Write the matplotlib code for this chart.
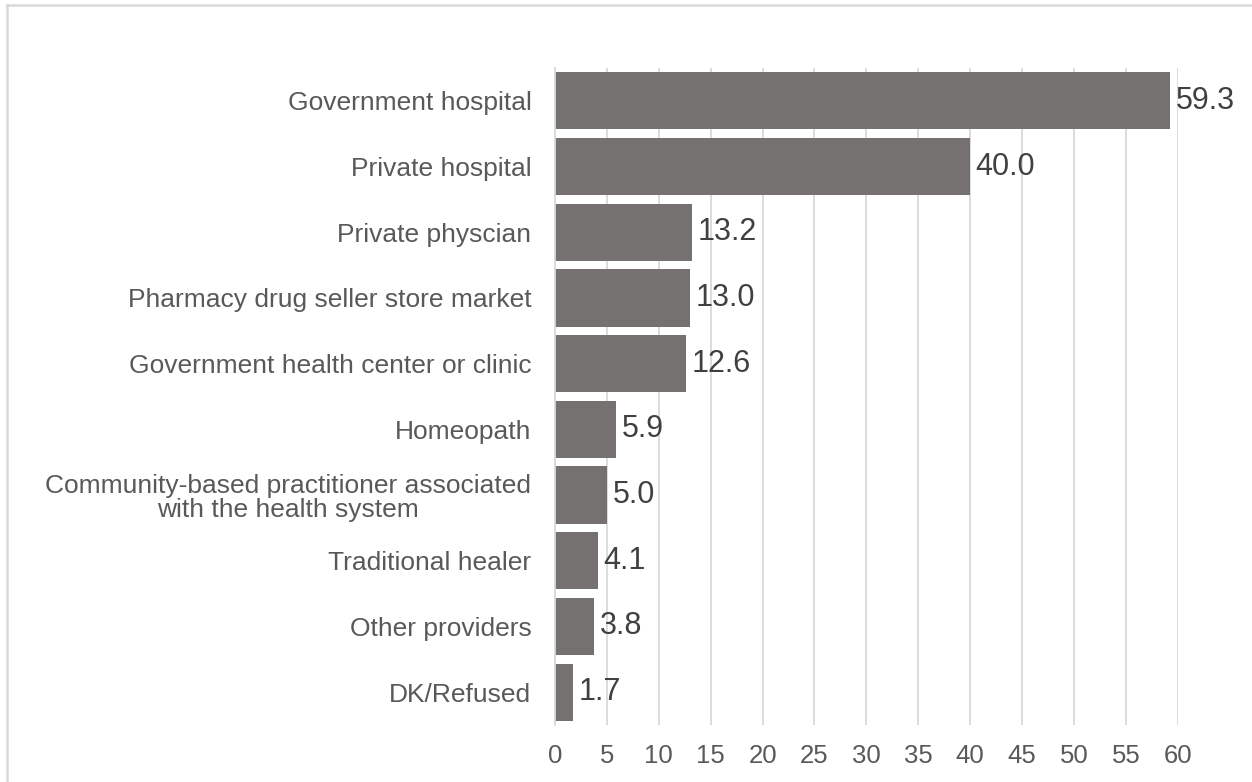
import matplotlib.pyplot as plt
from matplotlib.lines import Line2D

categories = ['Government hospital',
              'Private hospital',
              'Private physcian',
              'Pharmacy drug seller store market',
              'Government health center or clinic',
              'Homeopath',
              'Community-based practitioner associated\nwith the health system',
              'Traditional healer',
              'Other providers',
              'DK/Refused']
values = [59.3, 40.0, 13.2, 13.0, 12.6, 5.9, 5.0, 4.1, 3.8, 1.7]
xticks = list(range(0, 65, 5))

BAR_COLOR = '#767171'
GRID_COLOR = '#d9d9d9'

plt.rcParams['font.family'] = ['Liberation Sans', 'DejaVu Sans']

fig = plt.figure(figsize=(12.52, 7.82), dpi=100)
ax = fig.add_axes([0.4433, 0.0729, 0.4974, 0.8401])

pos = list(range(len(categories)))
ax.barh(pos, values, height=0.87, color=BAR_COLOR, zorder=2)

for y, v in zip(pos, values):
    ax.annotate('{:.1f}'.format(v), xy=(v, y), xytext=(4, 0),
                textcoords='offset points', va='center', ha='left',
                fontsize=22, color='#404040')

ax.set_ylim(len(categories) - 0.5, -0.5)
ax.set_xlim(0, 60)
ax.set_yticks(pos)
ax.set_yticklabels(categories, fontsize=19, color='#595959')
for lbl in ax.get_yticklabels():
    lbl.set_multialignment('center')
    lbl.set_linespacing(1.0)
ax.set_xticks(xticks)
ax.set_xticklabels([str(t) for t in xticks], fontsize=18.5, color='#595959')
ax.tick_params(axis='both', length=0)
ax.tick_params(axis='y', pad=17)
ax.tick_params(axis='x', pad=14)

ax.grid(axis='x', color=GRID_COLOR, linewidth=1.3, zorder=0)
ax.set_axisbelow(True)
for side in ['top', 'right', 'bottom']:
    ax.spines[side].set_visible(False)
ax.spines['left'].set_color(GRID_COLOR)
ax.spines['left'].set_linewidth(1.3)

# outer frame (top and left edges only)
x0 = 7 / 1252
y0 = 1 - 5 / 782
fig.add_artist(Line2D([x0, 1], [y0, y0], color=GRID_COLOR, linewidth=1.8,
                      transform=fig.transFigure))
fig.add_artist(Line2D([x0, x0], [0, y0], color=GRID_COLOR, linewidth=1.8,
                      transform=fig.transFigure))

fig.savefig('out.png', dpi=100)
